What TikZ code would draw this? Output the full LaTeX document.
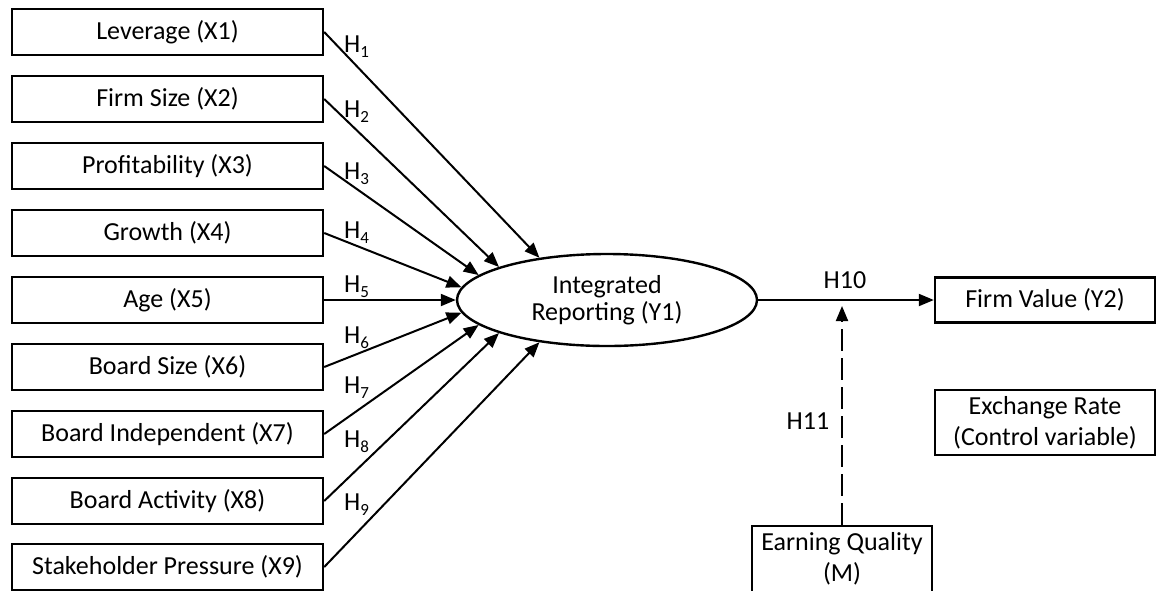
\documentclass[tikz,border=0pt]{standalone}
\usepackage{fontspec}
\setmainfont{Carlito}
\usetikzlibrary{shapes.geometric,arrows.meta}
\newcommand\hyp[1]{H\raisebox{-5pt}{\fontsize{17}{17}\selectfont #1}}
\begin{document}
\begin{tikzpicture}[x=1pt,y=-1pt,
  every node/.style={font=\fontsize{26}{31}\selectfont},
  var/.style={draw, line width=2.4pt, minimum width=311pt, minimum height=46pt, inner sep=0pt, align=center},
  conn/.style={line width=2pt, -{Triangle[length=15pt,width=12pt]}},
  hlab/.style={anchor=base west, inner sep=0pt}]
\useasboundingbox (0,0) rectangle (1158,590);
% independent variables
\node[var] (x1) at (167.5,32) {Leverage (X1)};
\node[var] (x2) at (167.5,99) {Firm Size (X2)};
\node[var] (x3) at (167.5,166) {Profitability (X3)};
\node[var] (x4) at (167.5,233) {Growth (X4)};
\node[var] (x5) at (167.5,300) {Age (X5)};
\node[var] (x6) at (167.5,367) {Board Size (X6)};
\node[var] (x7) at (167.5,434) {Board Independent (X7)};
\node[var] (x8) at (167.5,501) {Board Activity (X8)};
\node[var] (x9) at (167.5,567) {Stakeholder Pressure (X9)};
% integrated reporting
\node[draw, ellipse, line width=2.4pt, minimum width=300pt, minimum height=92pt, inner sep=0pt, align=center,
      font=\fontsize{26}{27}\selectfont] (y1) at (607,300) {Integrated\\Reporting (Y1)};
% outcome, control, moderator
\node[var, minimum width=220pt, minimum height=45pt] (y2) at (1045,300) {Firm Value (Y2)};
\node[var, minimum width=220pt, minimum height=65pt] (ex) at (1045,422.5) {Exchange Rate\\(Control variable)};
\node[var, minimum width=180pt, minimum height=66pt] (m) at (842,559) {Earning Quality\\(M)};
\coordinate (mt) at (842,306);
% connectors
\draw[conn] (x1.east) -- (y1.148);
\draw[conn] (x2.east) -- (y1.163);
\draw[conn] (x3.east) -- (y1.169);
\draw[conn] (x4.east) -- (y1.175);
\draw[conn] (x5.east) -- (y1.180);
\draw[conn] (x6.east) -- (y1.185);
\draw[conn] (x7.east) -- (y1.191);
\draw[conn] (x8.east) -- (y1.197);
\draw[conn] (x9.east) -- (y1.212);
\draw[conn] (y1.east) -- (y2.west);
\draw[conn, dash pattern=on 22pt off 7pt] (m.north) -- (mt);
% labels
\node[hlab] (h1) at (344,52) {\hyp{1}};
\node[hlab] (h2) at (344,117) {\hyp{2}};
\node[hlab] (h3) at (344,179) {\hyp{3}};
\node[hlab] (h4) at (344,238) {\hyp{4}};
\node[hlab] (h5) at (344,292) {\hyp{5}};
\node[hlab] (h6) at (344,343) {\hyp{6}};
\node[hlab] (h7) at (344,393) {\hyp{7}};
\node[hlab] (h8) at (344,447) {\hyp{8}};
\node[hlab] (h9) at (344,510) {\hyp{9}};
\node[anchor=base, inner sep=0pt] (h10) at (845,288) {H10};
\node[anchor=base, inner sep=0pt] (h11) at (808,429) {H11};
\end{tikzpicture}
\end{document}
